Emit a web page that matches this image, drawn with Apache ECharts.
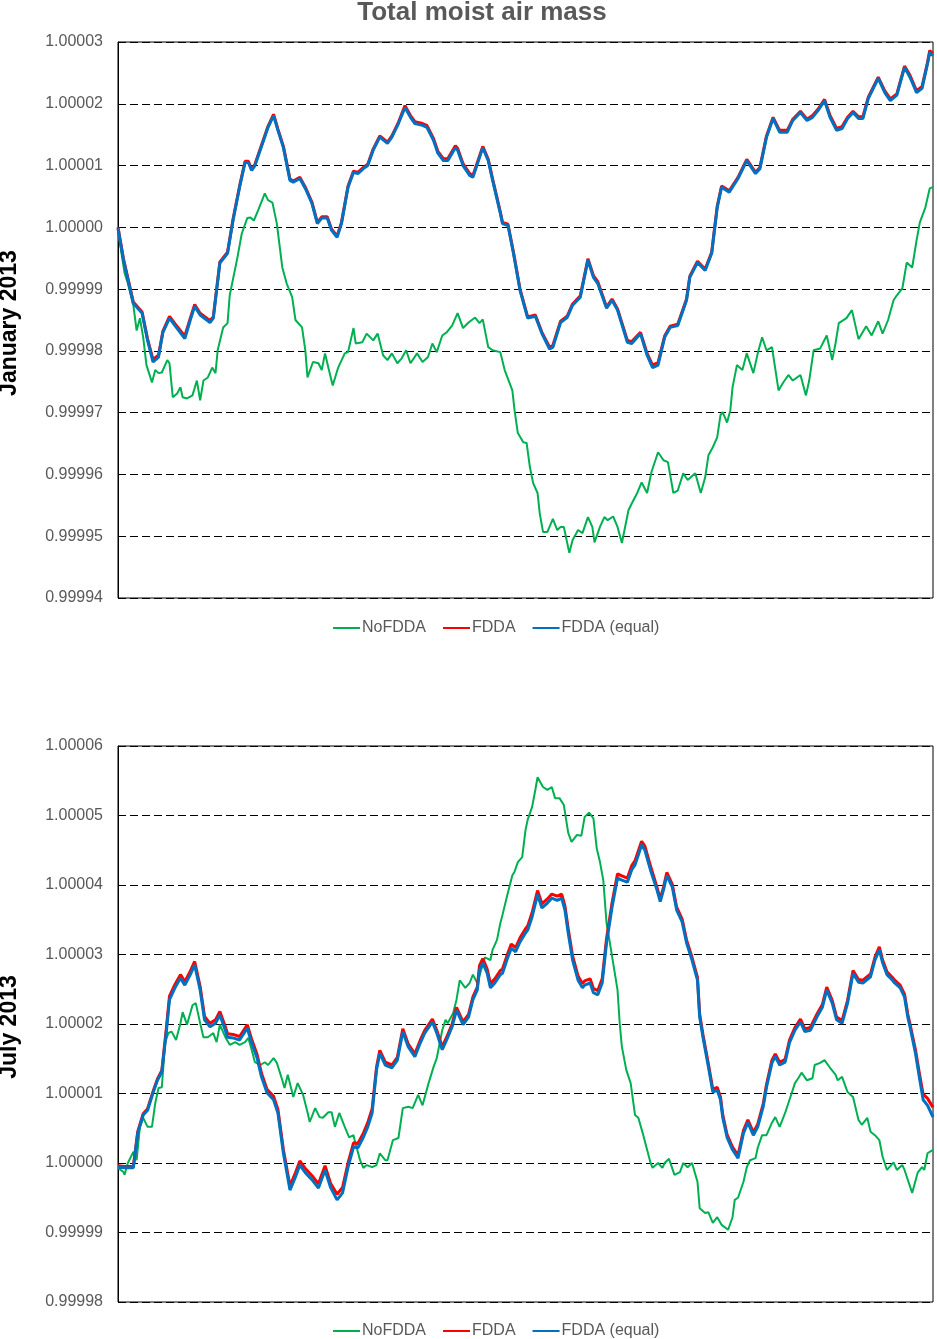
<!DOCTYPE html>
<html><head><meta charset="utf-8">
<script src="https://cdn.jsdelivr.net/npm/echarts@6/dist/echarts.min.js"></script>
<style>html,body{margin:0;padding:0;background:#fff}#c{width:937px;height:1339px}</style>
</head><body><div id="c"></div>
<script>
// x = hour of the month, y = normalised total moist air mass
const seriesNames = ['NoFDDA', 'FDDA', 'FDDA (equal)'];
const panelTitles = ['January 2013', 'July 2013'];
const janTicks = { min: 0.99994, max: 1.00003, step: 0.00001 };
const julTicks = { min: 0.99998, max: 1.00006, step: 0.00001 };

const janNoFDDA = [[0,0.9999995],[6,0.9999926],[9,0.9999909],[14,0.9999874],[17,0.9999833],[20,0.9999853],[23,0.9999822],[26,0.9999777],[31,0.9999749],[34,0.9999769],
[37,0.9999764],[40,0.9999765],[45,0.9999785],[47,0.9999780],[50,0.9999725],[54,0.9999731],[57,0.9999741],[59,0.9999725],[63,0.9999723],[68,0.9999728],
[72,0.9999752],[75,0.9999720],[78,0.9999752],[82,0.9999757],[86,0.9999773],[89,0.9999764],[91,0.9999801],[96,0.9999838],[100,0.9999845],[102,0.9999890],
[109,0.9999951],[113,0.9999990],[118,1.0000015],[121,1.0000016],[124,1.0000011],[128,1.0000028],[134,1.0000055],[137,1.0000044],[141,1.0000040],[145,1.0000006],
[150,0.9999935],[154,0.9999909],[159,0.9999887],[162,0.9999850],[168,0.9999838],[171,0.9999801],[173,0.9999757],[178,0.9999782],[183,0.9999780],[186,0.9999769],
[189,0.9999796],[192,0.9999773],[196,0.9999744],[201,0.9999773],[207,0.9999796],[210,0.9999798],[215,0.9999837],[217,0.9999812],[223,0.9999814],[227,0.9999828],
[233,0.9999817],[237,0.9999828],[242,0.9999793],[246,0.9999785],[250,0.9999796],[255,0.9999780],[259,0.9999788],[263,0.9999801],[267,0.9999780],[273,0.9999796],
[278,0.9999782],[283,0.9999790],[287,0.9999812],[291,0.9999798],[296,0.9999825],[300,0.9999830],[305,0.9999841],[310,0.9999861],[315,0.9999837],[320,0.9999846],
[326,0.9999854],[330,0.9999845],[333,0.9999851],[338,0.9999806],[342,0.9999801],[349,0.9999798],[353,0.9999769],[360,0.9999736],[362,0.9999704],[365,0.9999667],
[370,0.9999652],[373,0.9999651],[376,0.9999612],[379,0.9999586],[383,0.9999570],[385,0.9999537],[388,0.9999507],[392,0.9999507],[397,0.9999528],[401,0.9999510],
[404,0.9999515],[407,0.9999515],[412,0.9999473],[415,0.9999494],[420,0.9999510],[424,0.9999505],[429,0.9999531],[433,0.9999515],[435,0.9999490],[440,0.9999515],
[444,0.9999531],[447,0.9999526],[452,0.9999532],[456,0.9999515],[460,0.9999489],[466,0.9999542],[469,0.9999553],[474,0.9999570],[478,0.9999587],[483,0.9999570],
[487,0.9999604],[493,0.9999636],[498,0.9999623],[502,0.9999620],[507,0.9999570],[511,0.9999574],[516,0.9999602],[520,0.9999591],[527,0.9999602],[532,0.9999570],
[536,0.9999595],[539,0.9999631],[543,0.9999644],[547,0.9999660],[550,0.9999696],[552,0.9999701],[556,0.9999684],[559,0.9999704],[561,0.9999741],[565,0.9999777],
[570,0.9999769],[574,0.9999796],[580,0.9999764],[584,0.9999796],[588,0.9999822],[592,0.9999801],[597,0.9999806],[603,0.9999736],[607,0.9999748],[612,0.9999761],
[616,0.9999752],[623,0.9999761],[628,0.9999728],[631,0.9999752],[635,0.9999801],[641,0.9999804],[647,0.9999825],[652,0.9999785],[655,0.9999812],[658,0.9999845],
[665,0.9999853],[670,0.9999866],[676,0.9999819],[683,0.9999840],[688,0.9999825],[694,0.9999848],[698,0.9999828],[703,0.9999850],[708,0.9999882],[711,0.9999890],
[716,0.9999901],[720,0.9999943],[725,0.9999935],[729,0.9999979],[732,1.0000008],[737,1.0000032],[741,1.0000063],[744,1.0000065]];

const janFDDA = [[0,1.0000000],[5,0.9999949],[14,0.9999879],[22,0.9999863],[27,0.9999819],[32,0.9999786],[37,0.9999793],[41,0.9999832],[47,0.9999856],[52,0.9999844],
[61,0.9999824],[66,0.9999853],[70,0.9999875],[75,0.9999861],[84,0.9999849],[87,0.9999855],[93,0.9999944],[100,0.9999960],[105,1.0000013],[111,1.0000067],
[116,1.0000107],[119,1.0000107],[122,1.0000094],[125,1.0000102],[132,1.0000138],[137,1.0000164],[142,1.0000183],[146,1.0000159],[151,1.0000131],[157,1.0000078],
[160,1.0000075],[166,1.0000081],[171,1.0000065],[177,1.0000041],[182,1.0000008],[186,1.0000017],[191,1.0000017],[195,0.9999997],[200,0.9999986],[204,1.0000008],
[210,1.0000067],[215,1.0000091],[219,1.0000089],[224,1.0000097],[228,1.0000102],[233,1.0000127],[239,1.0000148],[246,1.0000138],[250,1.0000148],[256,1.0000170],
[262,1.0000197],[267,1.0000181],[271,1.0000171],[278,1.0000168],[282,1.0000165],[288,1.0000144],[292,1.0000123],[297,1.0000111],[301,1.0000111],[308,1.0000132],
[310,1.0000128],[315,1.0000103],[321,1.0000087],[324,1.0000084],[333,1.0000131],[338,1.0000110],[342,1.0000078],[349,1.0000025],[351,1.0000008],[356,1.0000005],
[361,0.9999960],[367,0.9999900],[374,0.9999855],[381,0.9999858],[387,0.9999830],[394,0.9999806],[397,0.9999809],[404,0.9999848],[410,0.9999856],[415,0.9999876],
[422,0.9999889],[429,0.9999949],[434,0.9999922],[438,0.9999912],[446,0.9999871],[451,0.9999884],[456,0.9999868],[465,0.9999817],[469,0.9999815],[477,0.9999830],
[483,0.9999796],[488,0.9999777],[493,0.9999781],[499,0.9999824],[504,0.9999840],[511,0.9999843],[519,0.9999884],[522,0.9999921],[529,0.9999945],[536,0.9999932],
[542,0.9999960],[547,1.0000034],[551,1.0000067],[558,1.0000059],[566,1.0000081],[574,1.0000110],[582,1.0000089],[586,1.0000097],[592,1.0000148],[598,1.0000178],
[604,1.0000157],[611,1.0000157],[616,1.0000175],[623,1.0000188],[629,1.0000175],[634,1.0000181],[639,1.0000191],[645,1.0000207],[650,1.0000181],[656,1.0000160],
[661,1.0000163],[666,1.0000178],[671,1.0000188],[676,1.0000179],[680,1.0000179],[685,1.0000211],[694,1.0000243],[700,1.0000221],[705,1.0000208],[711,1.0000216],
[718,1.0000261],[723,1.0000246],[729,1.0000221],[734,1.0000228],[739,1.0000267],[741,1.0000286],[744,1.0000282]];

const janFDDAEqual = [[0,0.9999998],[5,0.9999947],[14,0.9999877],[22,0.9999861],[27,0.9999817],[32,0.9999782],[37,0.9999790],[41,0.9999830],[47,0.9999853],[52,0.9999841],
[61,0.9999820],[66,0.9999850],[70,0.9999872],[75,0.9999858],[84,0.9999846],[87,0.9999853],[93,0.9999942],[100,0.9999958],[105,1.0000011],[111,1.0000065],
[116,1.0000105],[119,1.0000105],[122,1.0000092],[125,1.0000100],[132,1.0000136],[137,1.0000162],[142,1.0000181],[146,1.0000157],[151,1.0000129],[157,1.0000076],
[160,1.0000073],[166,1.0000079],[171,1.0000063],[177,1.0000039],[182,1.0000006],[186,1.0000015],[191,1.0000015],[195,0.9999995],[200,0.9999984],[204,1.0000006],
[210,1.0000065],[215,1.0000089],[219,1.0000087],[224,1.0000095],[228,1.0000100],[233,1.0000125],[239,1.0000146],[246,1.0000136],[250,1.0000146],[256,1.0000168],
[262,1.0000194],[267,1.0000178],[271,1.0000168],[278,1.0000165],[282,1.0000162],[288,1.0000141],[292,1.0000120],[297,1.0000108],[301,1.0000108],[308,1.0000129],
[310,1.0000125],[315,1.0000100],[321,1.0000084],[324,1.0000081],[333,1.0000129],[338,1.0000108],[342,1.0000076],[349,1.0000023],[351,1.0000006],[356,1.0000003],
[361,0.9999958],[367,0.9999898],[374,0.9999853],[381,0.9999856],[387,0.9999828],[394,0.9999803],[397,0.9999806],[404,0.9999846],[410,0.9999854],[415,0.9999874],
[422,0.9999887],[429,0.9999947],[434,0.9999919],[438,0.9999909],[446,0.9999869],[451,0.9999882],[456,0.9999866],[465,0.9999814],[469,0.9999812],[477,0.9999828],
[483,0.9999793],[488,0.9999773],[493,0.9999777],[499,0.9999822],[504,0.9999838],[511,0.9999841],[519,0.9999882],[522,0.9999919],[529,0.9999943],[536,0.9999930],
[542,0.9999958],[547,1.0000032],[551,1.0000065],[558,1.0000057],[566,1.0000079],[574,1.0000108],[582,1.0000087],[586,1.0000095],[592,1.0000146],[598,1.0000176],
[604,1.0000154],[611,1.0000154],[616,1.0000173],[623,1.0000186],[629,1.0000173],[634,1.0000178],[639,1.0000189],[645,1.0000205],[650,1.0000178],[656,1.0000157],
[661,1.0000160],[666,1.0000176],[671,1.0000186],[676,1.0000176],[680,1.0000176],[685,1.0000209],[694,1.0000241],[700,1.0000218],[705,1.0000205],[711,1.0000214],
[718,1.0000259],[723,1.0000243],[729,1.0000218],[734,1.0000225],[739,1.0000265],[741,1.0000283],[744,1.0000278]];

const julNoFDDA = [[0,0.9999993],[5,0.9999987],[6,0.9999983],[9,1.0000000],[14,1.0000016],[17,1.0000004],[20,1.0000052],[23,1.0000065],[27,1.0000052],[31,1.0000052],
[34,1.0000086],[37,1.0000108],[40,1.0000109],[43,1.0000173],[46,1.0000187],[49,1.0000189],[53,1.0000177],[57,1.0000201],[59,1.0000217],[63,1.0000199],
[68,1.0000227],[71,1.0000230],[75,1.0000201],[78,1.0000181],[82,1.0000181],[87,1.0000187],[90,1.0000174],[93,1.0000199],[98,1.0000181],[102,1.0000170],
[107,1.0000174],[111,1.0000170],[116,1.0000174],[119,1.0000180],[122,1.0000163],[125,1.0000145],[130,1.0000141],[134,1.0000145],[137,1.0000141],[142,1.0000151],
[145,1.0000144],[150,1.0000119],[152,1.0000108],[155,1.0000127],[160,1.0000095],[164,1.0000115],[169,1.0000098],[173,1.0000073],[175,1.0000059],[180,1.0000079],
[184,1.0000066],[187,1.0000065],[192,1.0000073],[195,1.0000073],[198,1.0000052],[202,1.0000072],[207,1.0000052],[211,1.0000037],[215,1.0000040],[216,1.0000033],
[221,1.0000004],[224,0.9999993],[227,0.9999997],[232,0.9999994],[236,0.9999997],[239,1.0000014],[244,1.0000004],[246,1.0000004],[251,1.0000033],[256,1.0000036],
[260,1.0000079],[265,1.0000081],[269,1.0000079],[274,1.0000098],[278,1.0000083],[283,1.0000112],[288,1.0000138],[291,1.0000151],[296,1.0000191],[299,1.0000206],
[301,1.0000201],[306,1.0000216],[309,1.0000235],[312,1.0000263],[317,1.0000252],[321,1.0000259],[324,1.0000271],[328,1.0000259],[335,1.0000296],[340,1.0000292],
[342,1.0000307],[346,1.0000321],[349,1.0000345],[351,1.0000357],[355,1.0000383],[360,1.0000414],[362,1.0000419],[365,1.0000433],[369,1.0000440],[372,1.0000479],
[374,1.0000494],[378,1.0000512],[381,1.0000537],[383,1.0000555],[388,1.0000541],[392,1.0000537],[396,1.0000541],[399,1.0000525],[403,1.0000525],[407,1.0000515],
[411,1.0000475],[414,1.0000462],[419,1.0000472],[423,1.0000471],[426,1.0000498],[430,1.0000504],[434,1.0000496],[437,1.0000453],[440,1.0000433],[443,1.0000407],
[446,1.0000345],[449,1.0000317],[452,1.0000288],[456,1.0000249],[458,1.0000201],[460,1.0000167],[464,1.0000134],[468,1.0000115],[472,1.0000069],[475,1.0000065],
[479,1.0000043],[483,1.0000019],[486,1.0000001],[488,0.9999993],[493,1.0000000],[497,0.9999993],[499,1.0000000],[503,1.0000006],[508,0.9999983],[513,0.9999987],
[516,1.0000000],[520,0.9999994],[524,1.0000000],[529,0.9999973],[531,0.9999935],[536,0.9999928],[539,0.9999929],[543,0.9999914],[547,0.9999922],[551,0.9999911],
[557,0.9999904],[561,0.9999922],[563,0.9999947],[566,0.9999950],[571,0.9999973],[574,0.9999994],[577,1.0000004],[582,1.0000007],[584,1.0000022],[588,1.0000040],
[592,1.0000040],[597,1.0000058],[600,1.0000066],[604,1.0000052],[609,1.0000072],[613,1.0000091],[618,1.0000115],[621,1.0000122],[624,1.0000130],[629,1.0000119],
[634,1.0000122],[636,1.0000141],[641,1.0000144],[645,1.0000148],[650,1.0000137],[655,1.0000127],[657,1.0000119],[661,1.0000124],[666,1.0000102],[671,1.0000095],
[676,1.0000062],[679,1.0000055],[684,1.0000065],[687,1.0000045],[691,1.0000040],[695,1.0000033],[698,1.0000009],[702,0.9999990],[708,1.0000001],[711,0.9999990],
[716,0.9999997],[718,0.9999990],[725,0.9999957],[730,0.9999986],[734,0.9999994],[736,0.9999990],[739,1.0000014],[744,1.0000019]];

const julFDDA = [[0,0.9999996],[6,0.9999995],[14,0.9999995],[18,1.0000045],[23,1.0000071],[27,1.0000078],[32,1.0000103],[36,1.0000121],[40,1.0000133],[44,1.0000192],
[47,1.0000240],[52,1.0000257],[57,1.0000271],[61,1.0000261],[66,1.0000276],[70,1.0000290],[75,1.0000254],[79,1.0000211],[84,1.0000201],[89,1.0000206],
[93,1.0000218],[98,1.0000196],[100,1.0000186],[105,1.0000185],[111,1.0000182],[118,1.0000199],[122,1.0000178],[127,1.0000156],[131,1.0000129],[136,1.0000106],
[142,1.0000096],[146,1.0000077],[151,1.0000019],[157,0.9999967],[162,0.9999986],[166,1.0000003],[171,0.9999992],[177,0.9999982],[183,0.9999970],[189,0.9999996],
[194,0.9999971],[200,0.9999955],[205,0.9999965],[210,1.0000000],[215,1.0000029],[219,1.0000028],[224,1.0000043],[228,1.0000058],[232,1.0000078],[236,1.0000138],
[239,1.0000162],[244,1.0000145],[250,1.0000141],[255,1.0000152],[260,1.0000193],[265,1.0000171],[271,1.0000157],[276,1.0000177],[280,1.0000191],[287,1.0000207],
[291,1.0000191],[296,1.0000167],[300,1.0000181],[305,1.0000200],[309,1.0000224],[315,1.0000203],[320,1.0000214],[324,1.0000239],[328,1.0000253],[330,1.0000284],
[333,1.0000294],[337,1.0000279],[340,1.0000258],[344,1.0000265],[349,1.0000277],[351,1.0000279],[355,1.0000298],[359,1.0000315],[363,1.0000310],[367,1.0000324],
[372,1.0000337],[374,1.0000341],[378,1.0000360],[383,1.0000392],[387,1.0000373],[392,1.0000380],[396,1.0000387],[401,1.0000384],[405,1.0000387],[408,1.0000370],
[411,1.0000337],[415,1.0000298],[420,1.0000269],[424,1.0000258],[426,1.0000262],[431,1.0000265],[434,1.0000251],[438,1.0000248],[442,1.0000265],[446,1.0000323],
[451,1.0000374],[456,1.0000416],[460,1.0000413],[465,1.0000410],[469,1.0000428],[472,1.0000435],[475,1.0000449],[478,1.0000463],[481,1.0000456],[486,1.0000428],
[492,1.0000397],[495,1.0000380],[498,1.0000397],[501,1.0000418],[506,1.0000401],[510,1.0000368],[515,1.0000351],[519,1.0000321],[524,1.0000296],[529,1.0000267],
[531,1.0000214],[534,1.0000185],[539,1.0000142],[543,1.0000106],[547,1.0000109],[550,1.0000095],[552,1.0000070],[556,1.0000041],[561,1.0000023],[566,1.0000011],
[571,1.0000047],[575,1.0000062],[580,1.0000044],[584,1.0000056],[589,1.0000085],[592,1.0000113],[597,1.0000148],[600,1.0000157],[604,1.0000145],[609,1.0000149],
[613,1.0000177],[618,1.0000195],[623,1.0000207],[627,1.0000193],[632,1.0000195],[638,1.0000214],[643,1.0000228],[647,1.0000253],[652,1.0000234],[656,1.0000210],
[661,1.0000205],[666,1.0000234],[671,1.0000277],[676,1.0000264],[680,1.0000263],[687,1.0000272],[691,1.0000296],[695,1.0000311],[698,1.0000292],[702,1.0000275],
[707,1.0000267],[709,1.0000263],[714,1.0000256],[718,1.0000243],[721,1.0000214],[723,1.0000200],[728,1.0000163],[732,1.0000125],[735,1.0000099],[739,1.0000093],
[744,1.0000080]];

const julFDDAEqual = [[0,0.9999994],[6,0.9999993],[14,0.9999993],[18,1.0000043],[23,1.0000069],[27,1.0000076],[32,1.0000101],[36,1.0000119],[40,1.0000131],[44,1.0000187],
[47,1.0000235],[52,1.0000252],[57,1.0000266],[61,1.0000256],[66,1.0000271],[70,1.0000285],[75,1.0000249],[79,1.0000206],[84,1.0000196],[89,1.0000201],
[93,1.0000213],[98,1.0000191],[100,1.0000181],[105,1.0000180],[111,1.0000177],[118,1.0000194],[122,1.0000173],[127,1.0000151],[131,1.0000124],[136,1.0000101],
[142,1.0000091],[146,1.0000072],[151,1.0000014],[157,0.9999961],[162,0.9999980],[166,0.9999997],[171,0.9999986],[177,0.9999976],[183,0.9999964],[189,0.9999990],
[194,0.9999965],[200,0.9999947],[205,0.9999957],[210,0.9999994],[215,1.0000023],[219,1.0000022],[224,1.0000037],[228,1.0000052],[232,1.0000072],[236,1.0000134],
[239,1.0000158],[244,1.0000141],[250,1.0000137],[255,1.0000148],[260,1.0000189],[265,1.0000167],[271,1.0000153],[276,1.0000173],[280,1.0000187],[287,1.0000203],
[291,1.0000187],[296,1.0000163],[300,1.0000177],[305,1.0000196],[309,1.0000220],[315,1.0000199],[320,1.0000210],[324,1.0000235],[328,1.0000249],[330,1.0000278],
[333,1.0000288],[337,1.0000273],[340,1.0000252],[344,1.0000259],[349,1.0000271],[351,1.0000273],[355,1.0000292],[359,1.0000309],[363,1.0000304],[367,1.0000318],
[372,1.0000331],[374,1.0000335],[378,1.0000354],[383,1.0000386],[387,1.0000367],[392,1.0000374],[396,1.0000381],[401,1.0000378],[405,1.0000381],[408,1.0000364],
[411,1.0000331],[415,1.0000292],[420,1.0000263],[424,1.0000252],[426,1.0000256],[431,1.0000259],[434,1.0000245],[438,1.0000242],[442,1.0000259],[446,1.0000317],
[451,1.0000368],[456,1.0000410],[460,1.0000407],[465,1.0000404],[469,1.0000422],[472,1.0000429],[475,1.0000443],[478,1.0000458],[481,1.0000450],[486,1.0000422],
[492,1.0000393],[495,1.0000376],[498,1.0000393],[501,1.0000414],[506,1.0000397],[510,1.0000364],[515,1.0000347],[519,1.0000317],[524,1.0000292],[529,1.0000263],
[531,1.0000210],[534,1.0000181],[539,1.0000138],[543,1.0000102],[547,1.0000105],[550,1.0000091],[552,1.0000066],[556,1.0000037],[561,1.0000019],[566,1.0000007],
[571,1.0000043],[575,1.0000058],[580,1.0000040],[584,1.0000052],[589,1.0000081],[592,1.0000109],[597,1.0000144],[600,1.0000153],[604,1.0000141],[609,1.0000145],
[613,1.0000173],[618,1.0000191],[623,1.0000203],[627,1.0000189],[632,1.0000191],[638,1.0000210],[643,1.0000224],[647,1.0000249],[652,1.0000230],[656,1.0000206],
[661,1.0000201],[666,1.0000230],[671,1.0000273],[676,1.0000260],[680,1.0000259],[687,1.0000268],[691,1.0000292],[695,1.0000307],[698,1.0000288],[702,1.0000271],
[707,1.0000263],[709,1.0000259],[714,1.0000252],[718,1.0000239],[721,1.0000210],[723,1.0000196],[728,1.0000158],[732,1.0000119],[735,1.0000091],[739,1.0000083],
[744,1.0000066]];

const FONT = '"Liberation Sans", Arial, sans-serif';
const GRAY = '#595959';
const COLORS = ['#00B050', '#FF0000', '#0070C0'];
const WIDTHS = [2, 3, 3];

const chart = echarts.init(document.getElementById('c'), null, { renderer: 'canvas' });

function yAxis(idx, t) {
  return {
    gridIndex: idx, type: 'value', min: t.min, max: t.max, interval: t.step,
    axisLine: { show: true, lineStyle: { color: '#000', width: 1 } },
    axisTick: { show: false },
    axisLabel: { formatter: v => v.toFixed(5), color: GRAY, fontSize: 16, fontFamily: FONT, margin: 15 },
    splitLine: { show: true, lineStyle: { color: '#000', width: 1, type: [8, 4] } }
  };
}
function xAxis(idx) {
  return { gridIndex: idx, type: 'value', min: 0, max: 744, show: false };
}
function line(name, i, panel, data) {
  return {
    type: 'line', name: name, xAxisIndex: panel, yAxisIndex: panel, data: data,
    symbol: 'none', showSymbol: false, animation: false,
    lineStyle: { color: COLORS[i], width: WIDTHS[i] }, itemStyle: { color: COLORS[i] }, z: 2 + i
  };
}
function legend(top) {
  return {
    data: seriesNames, left: 333, top: top, padding: 0, icon: 'rect', itemWidth: 27, itemHeight: 2, itemGap: 17,
    textStyle: { color: GRAY, fontSize: 16, fontFamily: FONT, padding: [0, 0, 0, -3] }
  };
}

chart.setOption({
  animation: false,
  backgroundColor: '#fff',
  grid: [
    { left: 118, right: 4, top: 42, height: 556, show: true, borderColor: '#000', borderWidth: 1 },
    { left: 118, right: 4, top: 746, height: 556, show: true, borderColor: '#000', borderWidth: 1 }
  ],
  xAxis: [xAxis(0), xAxis(1)],
  yAxis: [yAxis(0, janTicks), yAxis(1, julTicks)],
  legend: [legend(620), legend(1323)],
  graphic: [
    { type: 'text', x: 482, y: 13, style: { text: 'Total moist air mass', font: 'bold 26px ' + FONT, fill: GRAY, align: 'center', verticalAlign: 'middle' } },
    { type: 'text', x: 10, y: 323, rotation: Math.PI / 2, style: { text: panelTitles[0], font: 'bold 23px ' + FONT, fill: '#000', align: 'center', verticalAlign: 'middle' } },
    { type: 'text', x: 10, y: 1027, rotation: Math.PI / 2, style: { text: panelTitles[1], font: 'bold 23px ' + FONT, fill: '#000', align: 'center', verticalAlign: 'middle' } }
  ],
  series: [
    line(seriesNames[0], 0, 0, janNoFDDA),
    line(seriesNames[1], 1, 0, janFDDA),
    line(seriesNames[2], 2, 0, janFDDAEqual),
    line(seriesNames[0], 0, 1, julNoFDDA),
    line(seriesNames[1], 1, 1, julFDDA),
    line(seriesNames[2], 2, 1, julFDDAEqual)
  ]
});
</script>
</body></html>
